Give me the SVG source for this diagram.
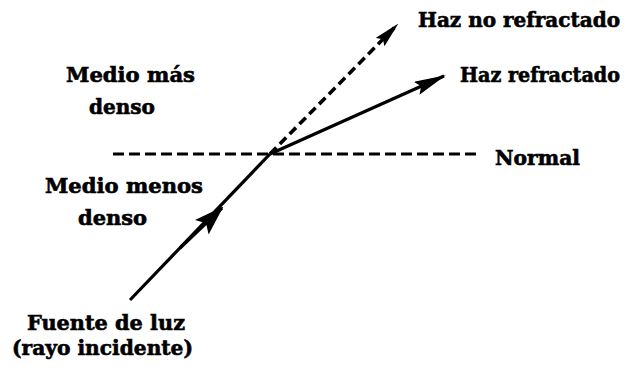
<svg xmlns="http://www.w3.org/2000/svg" width="636" height="375" viewBox="0 0 636 375">
<style>
  .lbl { font-family: "DejaVu Serif", serif; font-weight: bold; font-size: 20px; fill: #000; stroke: #000; stroke-width: 0.6; }
  .ray { stroke: #000; stroke-width: 3.2; fill: none; stroke-linecap: butt; }
  .dash { stroke-dasharray: 9 5; stroke-width: 3.6; }
  .normal { stroke-dasharray: 11 5; stroke-width: 3; }
</style>
<defs>
  <marker id="ah-big" viewBox="0 0 30 20" refX="28" refY="10" markerWidth="30" markerHeight="20" markerUnits="userSpaceOnUse" orient="auto">
    <path d="M0,0 L30,10 L0,20 L6,10 z" fill="#000"/>
  </marker>
  <marker id="ah-long" viewBox="0 0 32 14" refX="30" refY="7" markerWidth="32" markerHeight="14" markerUnits="userSpaceOnUse" orient="auto">
    <path d="M0,0 L32,7 L0,14 L5,7 z" fill="#000"/>
  </marker>
  <marker id="ah-dash" viewBox="0 0 26 12" refX="24" refY="6" markerWidth="26" markerHeight="12" markerUnits="userSpaceOnUse" orient="auto">
    <path d="M0,0 L26,6 L0,12 L4,6 z" fill="#000"/>
  </marker>
</defs>
<g id="connectors">
  <line id="normal-line" class="ray normal" x1="113" y1="154" x2="478" y2="154"/>
  <path id="incident" class="ray" d="M130,300 L270,154"/>
  <path id="incident-head" class="ray" d="M180,248 L222,208" marker-end="url(#ah-big)"/>
  <path id="refracted" class="ray" d="M270,154 L444,76" marker-end="url(#ah-long)"/>
  <path id="unrefracted" class="ray dash" d="M270,154 L397,25" marker-end="url(#ah-dash)"/>
</g>
<g id="label-haz-no-refractado"><text class="lbl" x="418" y="27" textLength="202" lengthAdjust="spacingAndGlyphs">Haz no refractado</text></g>
<g id="label-haz-refractado"><text class="lbl" x="460" y="82" textLength="160" lengthAdjust="spacingAndGlyphs">Haz refractado</text></g>
<g id="label-normal"><text class="lbl" x="495" y="165" textLength="85" lengthAdjust="spacingAndGlyphs">Normal</text></g>
<g id="label-medio-mas-denso">
  <text class="lbl" x="66" y="82" textLength="129" lengthAdjust="spacingAndGlyphs">Medio más</text>
  <text class="lbl" x="89" y="114" textLength="66" lengthAdjust="spacingAndGlyphs">denso</text>
</g>
<g id="label-medio-menos-denso">
  <text class="lbl" x="45" y="193" textLength="158" lengthAdjust="spacingAndGlyphs">Medio menos</text>
  <text class="lbl" x="78" y="225" textLength="69" lengthAdjust="spacingAndGlyphs">denso</text>
</g>
<g id="label-fuente">
  <text class="lbl" x="27" y="330" textLength="158" lengthAdjust="spacingAndGlyphs">Fuente de luz</text>
  <text class="lbl" x="12" y="355" textLength="181" lengthAdjust="spacingAndGlyphs">(rayo incidente)</text>
</g>
</svg>
